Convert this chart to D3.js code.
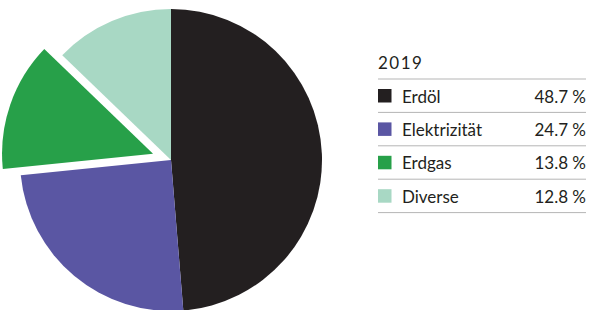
<!DOCTYPE html>
<html>
<head>
<meta charset="utf-8">
<script src="https://cdn.jsdelivr.net/npm/d3@7"></script>
<style>
  body { margin: 0; background: #fff; }
  svg { display: block; }
</style>
</head>
<body>
<svg id="chart" width="589" height="310"></svg>
<script>
// data
const year = "2019";
const labels = ["Erdöl", "Elektrizität", "Erdgas", "Diverse"];
const shares = [48.7, 24.7, 13.8, 12.8];
const colors = ["#231f20", "#5a56a3", "#27a049", "#a8d8c4"];
const exploded = "Erdgas";

const width = 589, height = 310;
const cx = 171, cy = 160, radius = 151;
const explode = 19;

const svg = d3.select("#chart");

const rows = labels.map((l, i) => ({ label: l, value: shares[i] }));
const color = d3.scaleOrdinal(labels, colors);

// pie
const arcs = d3.pie().sort(null).value(d => d.value)(rows);
const arc = d3.arc().innerRadius(0).outerRadius(radius);

svg.append("g")
    .attr("transform", `translate(${cx},${cy})`)
  .selectAll("path")
  .data(arcs)
  .join("path")
    .attr("fill", d => color(d.data.label))
    .attr("transform", d => {
      if (d.data.label !== exploded) return null;
      const a = (d.startAngle + d.endAngle) / 2;
      return `translate(${Math.sin(a) * explode},${-Math.cos(a) * explode})`;
    })
    .attr("d", arc);

// legend table
const lx = 378, rx = 586;
const tableTop = 79, rowH = 33.4;
const fmt = d3.format(".1f");

const y = d3.scaleLinear().domain([0, 1]).range([tableTop, tableTop + rowH]);

const leg = svg.append("g")
    .attr("font-family", "Lato, 'Open Sans', sans-serif")
    .attr("font-size", 17)
    .attr("fill", "#231f20");

leg.append("text")
    .attr("x", lx)
    .attr("y", tableTop - 10)
    .attr("letter-spacing", 1.5)
    .text(year);

leg.selectAll("line")
  .data(d3.range(rows.length + 1))
  .join("line")
    .attr("x1", lx)
    .attr("x2", rx)
    .attr("y1", d => y(d))
    .attr("y2", d => y(d))
    .attr("stroke", "#b5b5b5")
    .attr("stroke-width", 1);

const row = leg.selectAll("g.row")
  .data(rows)
  .join("g")
    .attr("class", "row")
    .attr("transform", (d, i) => `translate(0,${y(i)})`);

row.append("rect")
    .attr("x", lx)
    .attr("y", 10)
    .attr("width", 13.5)
    .attr("height", 13.5)
    .attr("fill", d => color(d.label));

row.append("text")
    .attr("x", lx + 24)
    .attr("y", 23.5)
    .text(d => d.label);

row.append("text")
    .attr("x", rx)
    .attr("y", 23.5)
    .attr("text-anchor", "end")
    .text(d => `${fmt(d.value)} %`);
</script>
</body>
</html>
